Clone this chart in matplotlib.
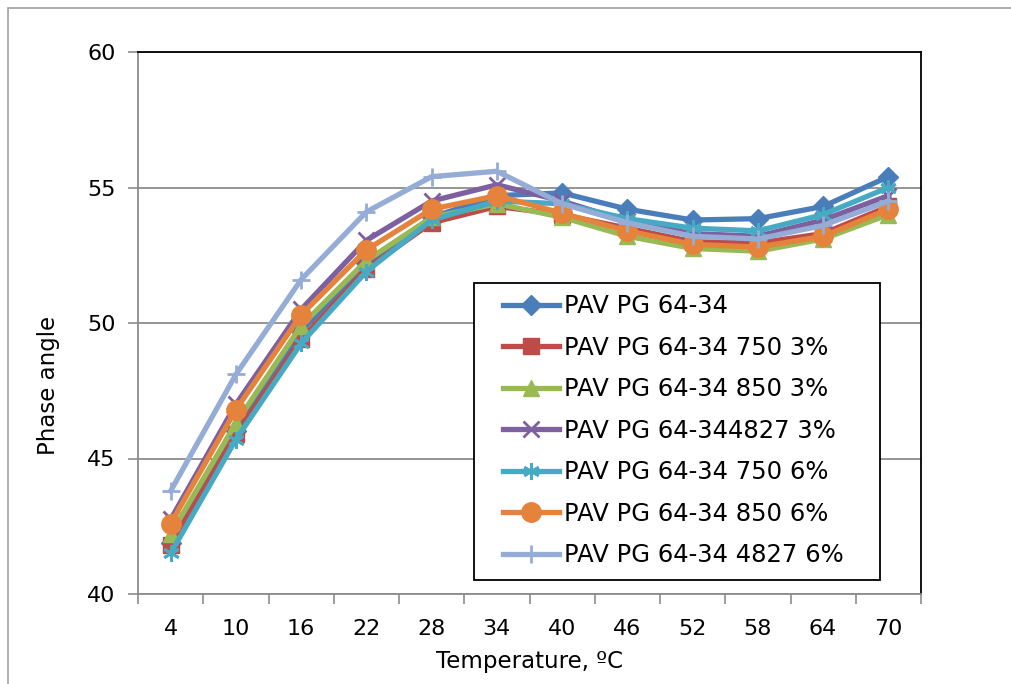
import matplotlib.pyplot as plt
from matplotlib.patches import Rectangle

plt.rcParams['font.family'] = ['DejaVu Sans']

temps = ['4', '10', '16', '22', '28', '34', '40', '46', '52', '58', '64', '70']

pav = [41.9, 46.0, 49.7, 52.2, 53.9, 54.7, 54.8, 54.2, 53.8, 53.85, 54.3, 55.4]
pav_750_3 = [41.8, 45.9, 49.4, 52.0, 53.7, 54.3, 54.0, 53.5, 53.0, 52.95, 53.3, 54.3]
pav_850_3 = [42.2, 46.3, 49.9, 52.3, 53.9, 54.4, 53.9, 53.2, 52.75, 52.65, 53.1, 54.0]
pav_4827_3 = [42.75, 47.0, 50.5, 53.05, 54.5, 55.1, 54.5, 53.75, 53.3, 53.2, 53.8, 54.7]
pav_750_6 = [41.5, 45.7, 49.25, 51.9, 53.8, 54.5, 54.4, 53.85, 53.5, 53.4, 54.0, 55.0]
pav_850_6 = [42.6, 46.8, 50.3, 52.7, 54.2, 54.7, 54.05, 53.4, 52.9, 52.8, 53.2, 54.2]
pav_4827_6 = [43.8, 48.1, 51.6, 54.1, 55.4, 55.6, 54.4, 53.7, 53.2, 53.1, 53.6, 54.5]

series = [
    ('PAV PG 64-34', pav, '#4A7EBB', 'D', 10),
    ('PAV PG 64-34 750 3%', pav_750_3, '#BE4B48', 's', 11),
    ('PAV PG 64-34 850 3%', pav_850_3, '#98B954', '^', 12),
    ('PAV PG 64-344827 3%', pav_4827_3, '#7D60A0', 'x', 11),
    ('PAV PG 64-34 750 6%', pav_750_6, '#46AAC5', (6, 2, 0), 12),
    ('PAV PG 64-34 850 6%', pav_850_6, '#E5833C', 'o', 14),
    ('PAV PG 64-34 4827 6%', pav_4827_6, '#95ADD6', '+', 13),
]

fig = plt.figure(figsize=(10.11, 6.84), dpi=100)
fig.patches.append(Rectangle((8 / 1011, -0.1), 1.2, 1.1 - 8 / 684, transform=fig.transFigure,
                             fill=False, edgecolor='#A0A0A0', linewidth=1.2))
ax = fig.add_axes([138 / 1011, 90 / 684, 783 / 1011, 542 / 684])

x = list(range(len(temps)))
for name, vals, col, mk, ms in series:
    ax.plot(x, vals, color=col, linewidth=3.8, marker=mk, markersize=ms,
            markeredgewidth=2 if mk in ('x', '+', (6, 2, 0)) else 1,
            markeredgecolor=col, markerfacecolor=col, label=name)

ax.set_xlim(-0.5, len(temps) - 0.5)
ax.set_ylim(40, 60)
ax.set_yticks([40, 45, 50, 55, 60])
ax.set_xticks(x)
ax.set_xticklabels(temps)
ax.set_xticks([i - 0.5 for i in range(len(temps) + 1)], minor=True)
ax.tick_params(axis='x', which='major', length=0, pad=18, labelsize=16)
ax.tick_params(axis='x', which='minor', length=7, color='#8C8C8C', width=1.2)
ax.tick_params(axis='y', length=7, color='#8C8C8C', width=1.2, pad=9, labelsize=16)

ax.grid(True, axis='y', color='#8C8C8C', linewidth=1.3)
ax.set_axisbelow(True)
for s in ('top', 'right'):
    ax.spines[s].set_color('black')
    ax.spines[s].set_linewidth(1.3)
for s in ('left', 'bottom'):
    ax.spines[s].set_color('#8C8C8C')
    ax.spines[s].set_linewidth(1.3)

ax.set_xlabel('Temperature, ºC', fontsize=16.5)
ax.xaxis.set_label_coords(0.5, -0.104)
ax.set_ylabel('Phase angle', fontsize=16.5)
ax.yaxis.set_label_coords(-0.1, 0.384)

# legend box drawn separately, Excel-style padding
ax.add_patch(Rectangle((0.429, 0.0258), 0.5185, 0.548, transform=ax.transAxes,
                       fill=True, facecolor='white', edgecolor='black',
                       linewidth=1.3, zorder=4))
leg = ax.legend(loc='upper left', bbox_to_anchor=(0.466, 0.553), fontsize=17.5,
                frameon=False, handlelength=2.3, labelspacing=0.72,
                handletextpad=0.2, borderpad=0, borderaxespad=0)
leg.set_zorder(5)

fig.savefig('out.png', dpi=100)
